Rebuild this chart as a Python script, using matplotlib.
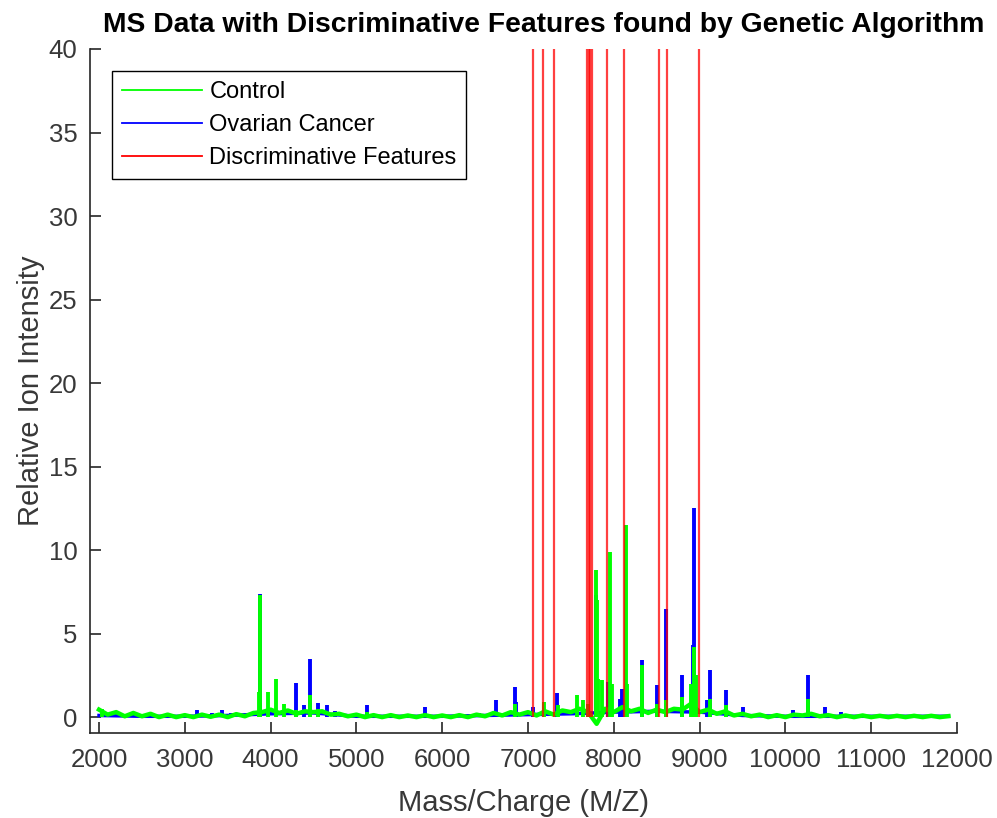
import matplotlib
matplotlib.use("Agg")
import matplotlib.pyplot as plt
import numpy as np

# Baseline of the control spectrum, read every 100 M/Z
base_mz = list(range(2000, 12000, 100))
control_base = [
    0.45, 0.15, 0.30, 0.05, 0.25, 0.05, 0.20, 0.00, 0.15, 0.00,
    0.12, 0.00, 0.15, 0.02, 0.15, 0.00, 0.18, 0.05, 0.25, 0.30,
    0.45, 0.25, 0.40, 0.20, 0.35, 0.30, 0.35, 0.15, 0.20, 0.05,
    0.15, 0.00, 0.12, 0.00, 0.12, 0.00, 0.10, 0.00, 0.12, 0.00,
    0.10, 0.00, 0.12, 0.00, 0.15, 0.05, 0.25, 0.10, 0.30, 0.15,
    0.30, 0.10, 0.35, 0.15, 0.40, 0.30, 0.50, 0.30, -0.40, 0.50,
    0.30, 0.60, 0.35, 0.50, 0.25, 0.45, 0.30, 0.50, 0.45, 0.80,
    0.30, 0.45, 0.20, 0.35, 0.10, 0.20, 0.05, 0.15, 0.00, 0.12,
    0.00, 0.15, 0.10, 0.20, 0.05, 0.12, 0.00, 0.10, 0.00, 0.10,
    0.00, 0.08, 0.00, 0.08, 0.00, 0.08, 0.00, 0.08, 0.00, 0.06,
]

# Baseline of the ovarian cancer spectrum (mostly hidden by the control)
cancer_base_mz = [2000, 2500, 3000, 3500, 4000, 4500, 5000, 5500, 6000, 6500,
                  7000, 7500, 8000, 8500, 9000, 9500, 10000, 10500, 11000, 11500, 11900]
cancer_base = [0.10, 0.05, 0.05, 0.10, 0.20, 0.25, 0.05, 0.05, 0.05, 0.10,
               0.15, 0.20, 0.30, 0.35, 0.30, 0.10, 0.05, 0.05, 0.05, 0.05, 0.05]

# Peaks of the control spectrum
control_peak_mz = [2030, 3870, 3876, 3973, 4063, 4156, 4296, 4459, 4556, 5127,
                   6848, 7186, 7355, 7567, 7645, 7700, 7790, 7800, 7820, 7860,
                   7956, 7975, 8138, 8157, 8325, 8500, 8605, 8791, 8900, 8938,
                   8960, 9121, 9303, 10266]
control_peak_int = [0.5, 1.5, 7.3, 1.5, 2.3, 0.8, 0.4, 1.3, 0.5, 0.3,
                    0.8, 0.9, 0.7, 1.3, 1.0, 0.8, 8.8, 7.0, 2.3, 2.2,
                    9.9, 2.0, 11.5, 2.0, 3.1, 0.8, 1.0, 1.2, 2.0, 4.2,
                    2.5, 1.1, 0.7, 1.1]

# Peaks of the ovarian cancer spectrum
cancer_peak_mz = [3142, 3313, 3430, 3538, 3876, 4296, 4393, 4459, 4556, 4653,
                  4751, 5127, 5800, 6433, 6627, 6848, 6860, 7054, 7342, 7790,
                  7928, 8072, 8090, 8325, 8500, 8605, 8791, 8920, 8938, 9082,
                  9121, 9303, 9501, 10091, 10266, 10461, 10644, 11720]
cancer_peak_int = [0.45, 0.25, 0.4, 0.25, 7.4, 2.05, 0.7, 3.5, 0.85, 0.75,
                   0.35, 0.7, 0.6, 0.25, 1.0, 1.8, 0.9, 0.6, 1.45, 7.3,
                   2.1, 1.1, 1.7, 3.4, 1.9, 6.5, 2.5, 4.3, 12.5, 1.0,
                   2.8, 1.6, 0.6, 0.4, 2.5, 0.6, 0.3, 0.15]

# M/Z values of the features picked by the genetic algorithm
feature_mz = [7055, 7178, 7303, 7684, 7706, 7728, 7750, 7924, 8115, 8523, 8620, 8990]

x_ticks = list(range(2000, 12001, 1000))
y_ticks = list(range(0, 41, 5))

plt.rcParams["font.family"] = ["Liberation Sans", "DejaVu Sans"]

fig = plt.figure(figsize=(9.97, 8.18), dpi=100)
ax = fig.add_axes([90 / 997, 85 / 818, 867 / 997, 684 / 818])

axis_color = (0.15, 0.15, 0.15)
label_color = (0.22, 0.22, 0.22)

# Cancer spectrum first, control drawn over it
ax.plot(cancer_base_mz, cancer_base, color="blue", lw=2.5, zorder=2)
ax.vlines(cancer_peak_mz, 0, cancer_peak_int, color="blue", lw=2.8, zorder=2)
ax.plot(base_mz, control_base, color=(0, 1, 0), lw=3.2, zorder=3)
ax.vlines(control_peak_mz, 0, control_peak_int, color=(0, 1, 0), lw=2.8, zorder=3)
ax.vlines(feature_mz, 0, 40, color="red", lw=1.6, alpha=0.75, zorder=4)

# Legend proxies
ax.plot([], [], color=(0, 1, 0), lw=1.3, label="Control")
ax.plot([], [], color="blue", lw=1.3, label="Ovarian Cancer")
ax.plot([], [], color="red", lw=1.3, label="Discriminative Features")

ax.set_xlim(1895, 12000)
ax.set_ylim(-0.95, 40)
ax.set_xticks(x_ticks)
ax.set_yticks(y_ticks)

for side in ["top", "right"]:
    ax.spines[side].set_visible(False)
for side in ["left", "bottom"]:
    ax.spines[side].set_color(axis_color)
    ax.spines[side].set_linewidth(1.2)

ax.tick_params(direction="in", length=8, width=1.2, color=axis_color,
               labelcolor=label_color, labelsize=18.5)
ax.tick_params(axis="x", pad=11)
ax.tick_params(axis="y", pad=9)

ax.set_xlabel("Mass/Charge (M/Z)", fontsize=21, color=label_color, labelpad=12)
ax.set_ylabel("Relative Ion Intensity", fontsize=21, color=label_color, labelpad=3)

fig.text(544 / 997, 1 - 25 / 818, "MS Data with Discriminative Features found by Genetic Algorithm",
         ha="center", va="center", fontsize=20.3, fontweight="bold")

leg = ax.legend(loc="upper left", bbox_to_anchor=(0.0254, 0.968), fontsize=17,
                handlelength=3.4, handletextpad=0.3, labelspacing=0.48,
                borderpad=0.42, borderaxespad=0, fancybox=False, framealpha=1)
leg.get_frame().set_edgecolor("black")
leg.get_frame().set_linewidth(1.0)
for t in leg.get_texts():
    t.set_color("black")

plt.savefig("out.png", dpi=100)
